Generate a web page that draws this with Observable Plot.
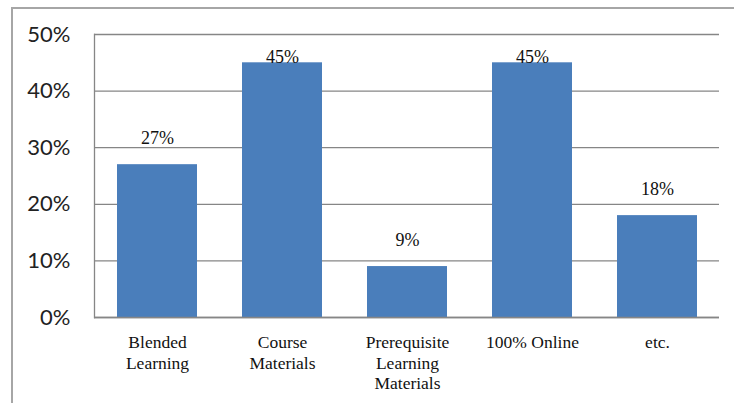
<!DOCTYPE html>
<html><head><meta charset="utf-8">
<script src="https://cdn.jsdelivr.net/npm/d3@7"></script>
<script src="https://cdn.jsdelivr.net/npm/@observablehq/plot@0.6"></script>
<style>
body{margin:0;background:#fff;}
#wrap{position:relative;width:734px;height:403px;overflow:hidden;}
#frame{position:absolute;left:11px;top:7px;width:800px;height:500px;border:2px solid #a6a6a6;pointer-events:none;}
</style></head><body>
<div id="wrap"><div id="chart"></div><div id="frame"></div></div>
<script>
const categories = ["Blended Learning", "Course Materials", "Prerequisite Learning Materials", "100% Online", "etc."];
const values = [27, 45, 9, 45, 18];
const tickLabels = ["Blended\nLearning", "Course\nMaterials", "Prerequisite\nLearning\nMaterials", "100% Online", "etc."];
const yTicks = [0, 10, 20, 30, 40, 50];

const data = categories.map((c, i) => ({category: c, value: values[i], label: values[i] + "%"}));

const chart = Plot.plot({
  width: 734, height: 403,
  marginLeft: 94, marginRight: 15, marginTop: 34, marginBottom: 86,
  x: {domain: categories, paddingInner: 0.36, paddingOuter: 0.18, label: null},
  y: {domain: [0, 50], label: null},
  style: {background: "transparent"},
  marks: [
    Plot.gridY(yTicks, {stroke: "#868686", strokeOpacity: 1, strokeWidth: 1.3}),
    Plot.barY(data, {x: "category", y: "value", fill: "#4a7ebb"}),
    Plot.ruleY([0], {stroke: "#868686", strokeWidth: 1.3}),
    Plot.frame({anchor: "left", stroke: "#868686", strokeWidth: 1.3}),
    Plot.axisY(yTicks, {tickSize: 0, tickPadding: 24, tickFormat: d => d + "%", fontSize: 22, fontFamily: "Lato", fill: "#222"}),
    Plot.axisX({tickSize: 0, tickPadding: 16, tickFormat: d => tickLabels[categories.indexOf(d)], fontSize: 17.5, fontFamily: "Liberation Serif", lineHeight: 1.18, fill: "#111"}),
    Plot.text(data, {x: "category", y: d => Math.min(d.value + 4.6, 45.9), text: "label", fontSize: 18, fontFamily: "Liberation Serif", fill: "#111"})
  ]
});
document.getElementById("chart").appendChild(chart);
</script>
</body></html>
